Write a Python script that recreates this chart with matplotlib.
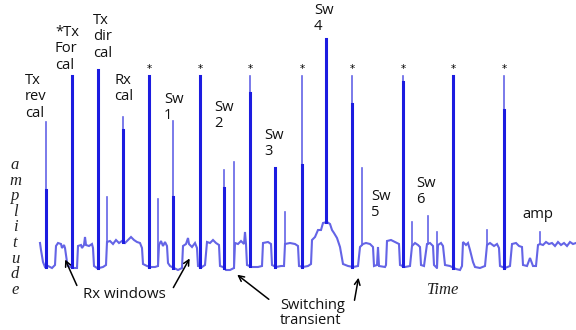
import numpy as np
import matplotlib
matplotlib.use("Agg")
import matplotlib.pyplot as plt

# ---------------- data (time in samples, amplitude in arbitrary units) ----------------
trace_time = [40, 41, 43, 45, 48, 52, 55, 56, 58, 61, 62, 64, 65, 67, 68, 71, 74, 77, 78, 81, 82, 84, 85, 86, 89, 92, 93,
              94, 97, 99, 103, 106, 107, 110, 113, 116, 119, 122, 125, 128, 131, 134, 137, 140, 142, 143, 147, 150, 155,
              158, 159, 161, 163, 165, 167, 168, 170, 174, 178, 182, 183, 186, 188, 189, 192, 195, 197, 198, 202, 205,
              207, 210, 213, 216, 219, 220, 223, 226, 230, 234, 235, 238, 241, 244, 245, 246, 247, 252, 258, 262, 263,
              268, 271, 272, 276, 281, 284, 285, 290, 295, 298, 299, 303, 308, 311, 312, 315, 318, 321, 323, 327, 330,
              332, 334, 337, 340, 343, 348, 353, 358, 360, 363, 366, 370, 373, 374, 377, 378, 379, 385, 386, 387, 391,
              395, 399, 400, 405, 410, 412, 415, 418, 420, 421, 424, 427, 430, 433, 434, 437, 438, 441, 443, 445, 450,
              456, 460, 462, 463, 466, 468, 470, 473, 475, 480, 485, 487, 490, 494, 497, 499, 500, 505, 510, 512, 516,
              519, 522, 523, 527, 530, 533, 536, 538, 540, 543, 546, 549, 552, 555, 558, 561, 564, 567, 570, 573, 576]
trace_amp = [32, 25, 13, 8, 9, 7, 10, 29, 32, 31, 27, 30, 27, 13, 9, 8, 7, 7, 29, 30, 27, 30, 38, 30, 29, 31, 27,
             9, 7, 7, 8, 10, 33, 34, 31, 35, 32, 34, 32, 35, 38, 35, 33, 32, 27, 11, 9, 8, 8,
             9, 30, 34, 29, 33, 29, 12, 9, 7, 5, 7, 29, 31, 37, 31, 28, 32, 27, 9, 8, 10,
             33, 32, 35, 32, 30, 9, 8, 5, 5, 7, 32, 31, 34, 31, 43, 31, 10, 8, 8, 9, 32,
             33, 31, 10, 8, 9, 9, 31, 32, 31, 29, 9, 8, 9, 11, 35, 38, 45, 45, 52, 53, 51,
             45, 42, 37, 28, 11, 9, 8, 9, 28, 31, 32, 31, 28, 9, 10, 28, 9, 8, 10, 34, 35,
             33, 31, 10, 8, 9, 29, 32, 30, 28, 10, 9, 31, 32, 29, 10, 7, 30, 32, 29, 10, 9,
             6, 5, 9, 33, 30, 32, 25, 13, 8, 7, 9, 30, 32, 29, 31, 27, 9, 7, 9, 31, 32,
             29, 28, 10, 9, 17, 9, 9, 30, 31, 30, 33, 31, 32, 29, 33, 30, 32, 29, 33, 31, 32]

spike_time = [46, 72, 98, 107, 123, 149, 158, 173, 200, 224, 234, 250, 275, 285, 302, 326,
              352, 362, 403, 412, 428, 437, 453, 487, 504, 540]
spike_top = [153, 199, 205, 78, 158, 199, 76, 154, 199, 105, 113, 199, 107, 63, 199, 236,
             199, 107, 199, 53, 59, 43, 199, 45, 199, 43]
spike_dark_top = [85, 199, 205, 0, 145, 199, 0, 78, 199, 87, 0, 182, 107, 0, 110, 236,
                  171, 0, 193, 0, 0, 0, 199, 0, 165, 0]
marked = [False, False, False, False, False, True, False, False, True, False, False, True, False, False, True, False,
          True, False, True, False, False, False, True, False, True, False]

labels = ["Tx\nrev\ncal", "*Tx\nFor\ncal", "Tx\ndir\ncal", "Rx\ncal", "Sw\n1", "Sw\n2", "Sw\n3",
          "Sw\n4", "Sw\n5", "Sw\n6", "amp"]
label_time = [25, 55, 93, 114, 164, 214, 264, 314, 371, 416, 522]
label_top_amp = [202, 250, 262, 202, 183, 175, 147, 272, 86, 99, 68]

# ---------------- drawing ----------------
fig = plt.figure(figsize=(5.76, 3.30), dpi=100)
ax = fig.add_axes([0, 0, 1, 1])
ax.set_xlim(0, 576)
ax.set_ylim(-55, 275)
ax.axis("off")

light = "#6464e6"
dark = "#1c1ce0"

ax.plot(trace_time, trace_amp, color=light, lw=1.5, solid_joinstyle="miter", zorder=2)

base = np.interp(spike_time, trace_time, trace_amp)
for t, b, top, dtop, m in zip(spike_time, base, spike_top, spike_dark_top, marked):
    ax.plot([t, t], [b, top], color=light, lw=1.2, zorder=3)
    if dtop > 0:
        ax.plot([t, t], [b, dtop], color=dark, lw=2.2, zorder=4)
    if m:
        ax.text(t + 0.5, top + 2, "*", ha="center", va="bottom", fontsize=7.5,
                family="DejaVu Sans", color="black")

for lab, t, a in zip(labels, label_time, label_top_amp):
    ax.text(t, a, lab, ha="left", va="top", fontsize=10.6, family="Open Sans",
            linespacing=1.12, color="#111111")

# vertical axis label, one letter per line
for i, ch in enumerate("amplitude"):
    ax.text(15, 110 - i * 15.6, ch, ha="center", va="center", fontsize=12,
            family="Liberation Serif", style="italic", color="#222222")

ax.text(427, -15, "Time", ha="left", va="center", fontsize=12,
        family="Liberation Serif", style="italic", color="#222222")

ax.text(83, -20, "Rx windows", ha="left", va="center", fontsize=10.8,
        family="Open Sans", color="#111111")
ax.text(280, -38, "Switching\ntransient", ha="left", va="center", fontsize=10.5,
        family="Open Sans", linespacing=1.05, color="#111111")

arrow = dict(arrowstyle="->", color="black", lw=1.1, mutation_scale=10)
ax.annotate("", xy=(64, 18), xytext=(78, -13), arrowprops=arrow)
ax.annotate("", xy=(191, 19), xytext=(172, -15), arrowprops=arrow)
ax.annotate("", xy=(235, 2), xytext=(271, -26), arrowprops=arrow)
ax.annotate("", xy=(359, 0), xytext=(354, -28), arrowprops=arrow)

fig.savefig("out.png", dpi=100)
